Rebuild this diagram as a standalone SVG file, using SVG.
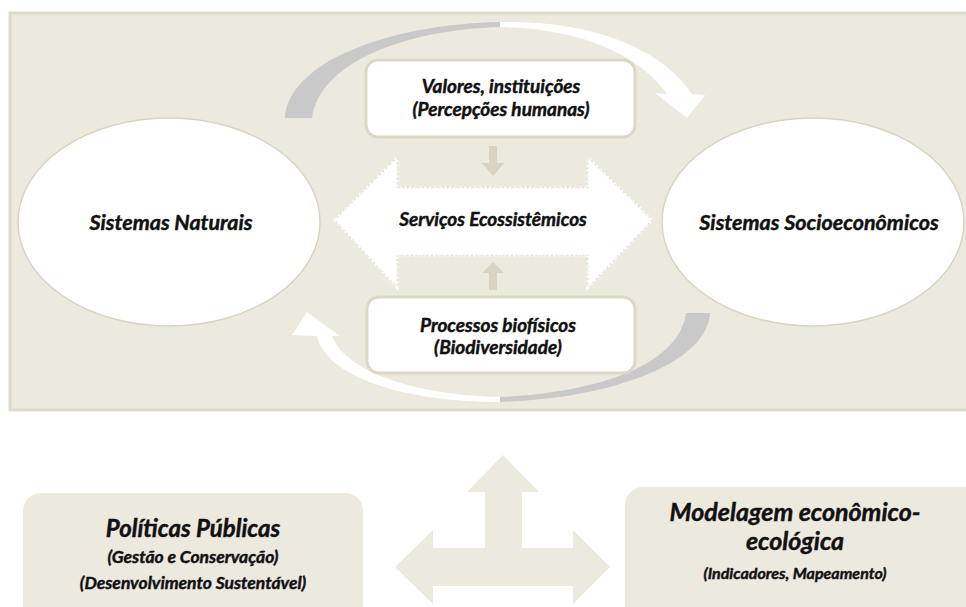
<svg xmlns="http://www.w3.org/2000/svg" width="966" height="607" viewBox="0 0 966 607">
<style>
.t{font-family:Lato,"Open Sans","Liberation Sans",sans-serif;font-weight:bold;font-style:italic;fill:#111;stroke:#111;stroke-width:0.45;text-anchor:middle}
.ell{fill:#fff;stroke:#d9d4c2;stroke-width:1.5}
.box{fill:#fff;stroke:#ddd8c5;stroke-width:3}
.sm{fill:#d9d4c1}
.bg{fill:#ece9df}
</style>
<rect x="0" y="0" width="966" height="607" fill="#fff"/>
<rect id="panel" x="10" y="13" width="962" height="397" fill="#ece9df" stroke="#dedac9" stroke-width="3"/>
<g id="connectors">
  <path d="M285 118 C288 62 390 24 500 22 L500 27 C405 30 320 62 312 118 Z" fill="#c9c9c9"/>
  <path d="M500 22 C590 20 662 48 692 94 L705 95 L687 118 L655 93 L667 94 C640 55 580 28 500 27 Z" fill="#fff"/>
  <path d="M710 313 C708 360 620 398 500 402 L500 397 C610 392 680 360 686 313 Z" fill="#c9c9c9"/>
  <path d="M500 402 C400 402 325 375 317 336 L292 335 L307 312 L340 336 L332 336 C345 370 410 395 500 397 Z" fill="#fff"/>
  <path d="M489 146 H497 V163 H504 L493 176 L482 163 H489 Z" class="sm"/>
  <path d="M489 290 H497 V273 H504 L493 262 L482 273 H489 Z" class="sm"/>
  <path d="M503 455 L539 492 L522 492 L522 548 L573 548 L573 530 L610 567 L573 604 L573 586 L433 586 L433 604 L395 567 L433 530 L433 548 L485 548 L485 492 L467 492 Z" class="bg"/>
</g>
<g id="servicos">
  <path d="M335 220 L397 158 L397 188 L588 188 L588 158 L652 220 L588 287 L588 255 L397 255 L397 287 Z" fill="#fff" stroke="#fff" stroke-width="3" stroke-dasharray="2 3"/>
  <path d="M335 220 L397 158 L397 188 L588 188 L588 158 L652 220 L588 287 L588 255 L397 255 L397 287 Z" fill="none" stroke="#d6d1c0" stroke-width="1" stroke-dasharray="1 3"/>
  <text class="t" x="493" y="226" font-size="19">Serviços Ecossistêmicos</text>
</g>
<g id="naturais">
  <ellipse class="ell" cx="169" cy="222" rx="151" ry="104"/>
  <text class="t" x="171" y="230" font-size="21.5">Sistemas Naturais</text>
</g>
<g id="socio">
  <ellipse class="ell" cx="813" cy="222" rx="151" ry="104"/>
  <text class="t" x="819" y="230" font-size="21.5">Sistemas Socioeconômicos</text>
</g>
<g id="valores">
  <rect class="box" x="366" y="60" width="269" height="77" rx="12"/>
  <text class="t" x="501" y="93" font-size="19">Valores, instituições</text>
  <text class="t" x="501" y="116" font-size="19">(Percepções humanas)</text>
</g>
<g id="processos">
  <rect class="box" x="367" y="297" width="268" height="76" rx="12"/>
  <text class="t" x="498" y="332" font-size="19">Processos biofísicos</text>
  <text class="t" x="498" y="354" font-size="19">(Biodiversidade)</text>
</g>
<g id="politicas">
  <rect class="bg" x="23" y="493" width="340" height="140" rx="18"/>
  <text class="t" x="193" y="537" font-size="24">Políticas Públicas</text>
  <text class="t" x="193" y="563" font-size="17.5">(Gestão e Conservação)</text>
  <text class="t" x="193" y="589" font-size="17.5">(Desenvolvimento Sustentável)</text>
</g>
<g id="modelagem">
  <rect class="bg" x="625" y="487" width="360" height="150" rx="18"/>
  <text class="t" x="795" y="521" font-size="25">Modelagem econômico-</text>
  <text class="t" x="795" y="550" font-size="25">ecológica</text>
  <text class="t" x="795" y="579" font-size="16">(Indicadores, Mapeamento)</text>
</g>
</svg>
